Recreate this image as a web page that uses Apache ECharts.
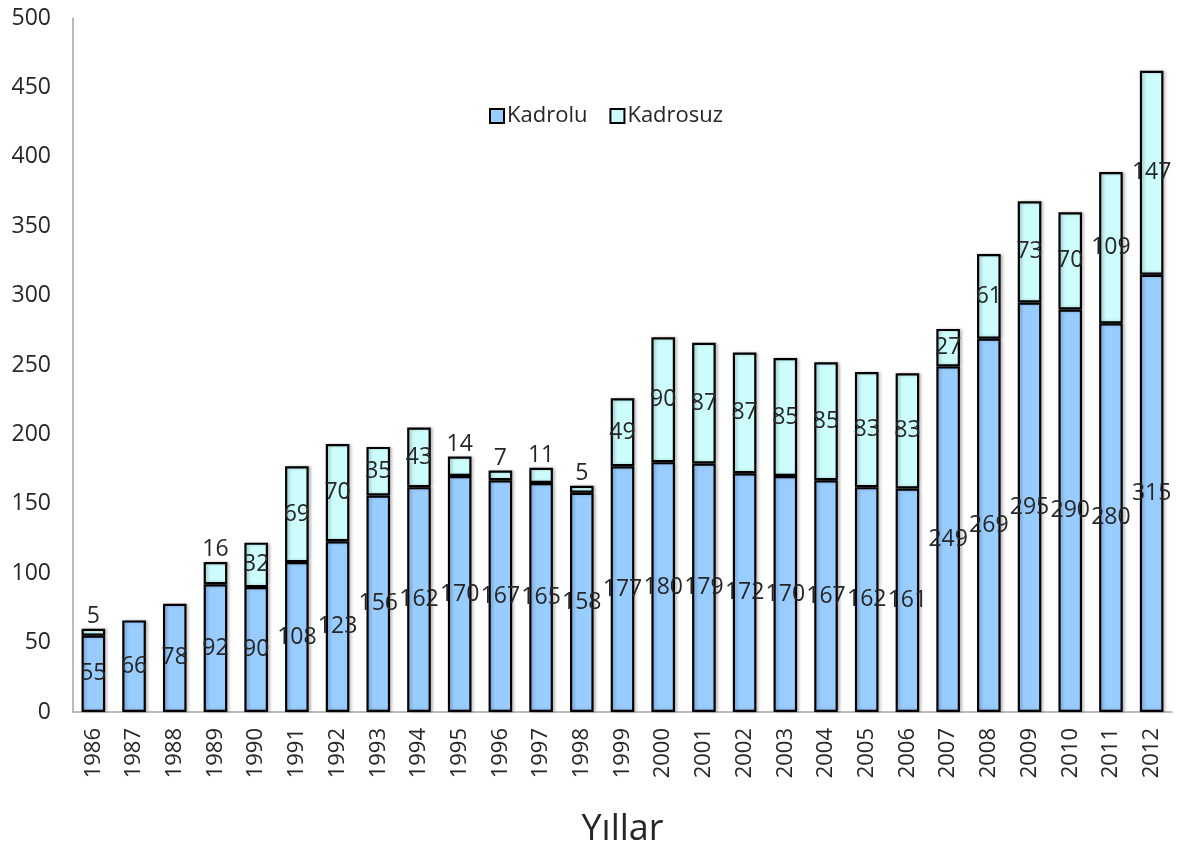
<!DOCTYPE html>
<html>
<head>
<meta charset="utf-8">
<script src="https://cdn.jsdelivr.net/npm/echarts@6/dist/echarts.min.js"></script>
<style>
    html, body { margin: 0; padding: 0; background: #fff; }
    #chart { width: 1178px; height: 853px; }
</style>
</head>
<body>
<div id="chart"></div>
<script>
    // yillar
    var years = ['1986', '1987', '1988', '1989', '1990', '1991', '1992', '1993', '1994',
        '1995', '1996', '1997', '1998', '1999', '2000', '2001', '2002', '2003', '2004',
        '2005', '2006', '2007', '2008', '2009', '2010', '2011', '2012'];
    var kadrolu = [55, 66, 78, 92, 90, 108, 123, 156, 162, 170, 167, 165, 158, 177, 180,
        179, 172, 170, 167, 162, 161, 249, 269, 295, 290, 280, 315];
    var kadrosuz = [5, null, null, 16, 32, 69, 70, 35, 43, 14, 7, 11, 5, 49, 90,
        87, 87, 85, 85, 83, 83, 27, 61, 73, 70, 109, 147];
    var yTicks = [0, 50, 100, 150, 200, 250, 300, 350, 400, 450, 500];

    var fontFam = '"Open Sans", "Liberation Sans", sans-serif';
    var txtColor = '#262626';

    var myChart = echarts.init(document.getElementById('chart'));

    // kucuk degerlerde etiket cubugun ustunde
    var kadrosuzData = kadrosuz.map(function (v) {
        if (v !== null && v < 20) {
            return { value: v, label: { position: 'top', distance: 1 } };
        }
        return v;
    });

    var barStyle = function (color) {
        return {
            color: color,
            borderColor: '#000',
            borderWidth: 2.2,
            shadowColor: 'rgba(0,0,0,0.22)',
            shadowBlur: 3,
            shadowOffsetX: 2
        };
    };

    var option = {
        animation: false,
        grid: {
            left: 73,
            right: 6,
            top: 18,
            bottom: 139
        },
        legend: {
            data: ['Kadrolu', 'Kadrosuz'],
            left: 484,
            top: 100,
            itemWidth: 14,
            itemHeight: 14,
            itemGap: 22,
            icon: 'rect',
            textStyle: { fontFamily: fontFam, fontSize: 22, color: txtColor, padding: [0, 0, 0, -2] }
        },
        xAxis: {
            type: 'category',
            data: years,
            name: 'Yıllar',
            nameLocation: 'middle',
            nameGap: 100,
            nameTextStyle: { fontFamily: fontFam, fontSize: 36, color: txtColor },
            axisLine: { lineStyle: { color: '#a6a6a6', width: 1.5 } },
            axisTick: { show: false },
            axisLabel: {
                rotate: 90,
                margin: 16,
                fontFamily: fontFam,
                fontSize: 22,
                color: txtColor
            }
        },
        yAxis: {
            type: 'value',
            min: yTicks[0],
            max: yTicks[yTicks.length - 1],
            interval: 50,
            axisLine: { show: true, lineStyle: { color: '#a6a6a6', width: 1.5 } },
            axisTick: { show: false },
            splitLine: { show: false },
            axisLabel: {
                margin: 22,
                fontFamily: fontFam,
                fontSize: 23,
                color: txtColor
            }
        },
        series: [{
            name: 'Kadrolu',
            type: 'bar',
            stack: 'toplam',
            barWidth: '58%',
            data: kadrolu,
            itemStyle: barStyle('#99CCFF'),
            label: {
                show: true,
                position: 'inside',
                fontFamily: fontFam,
                fontSize: 23,
                color: txtColor
            }
        }, {
            name: 'Kadrosuz',
            type: 'bar',
            stack: 'toplam',
            barWidth: '58%',
            data: kadrosuzData,
            itemStyle: barStyle('#CCFCFC'),
            label: {
                show: true,
                position: 'inside',
                fontFamily: fontFam,
                fontSize: 23,
                color: txtColor
            }
        }]
    };
    myChart.setOption(option);
</script>
</body>
</html>
